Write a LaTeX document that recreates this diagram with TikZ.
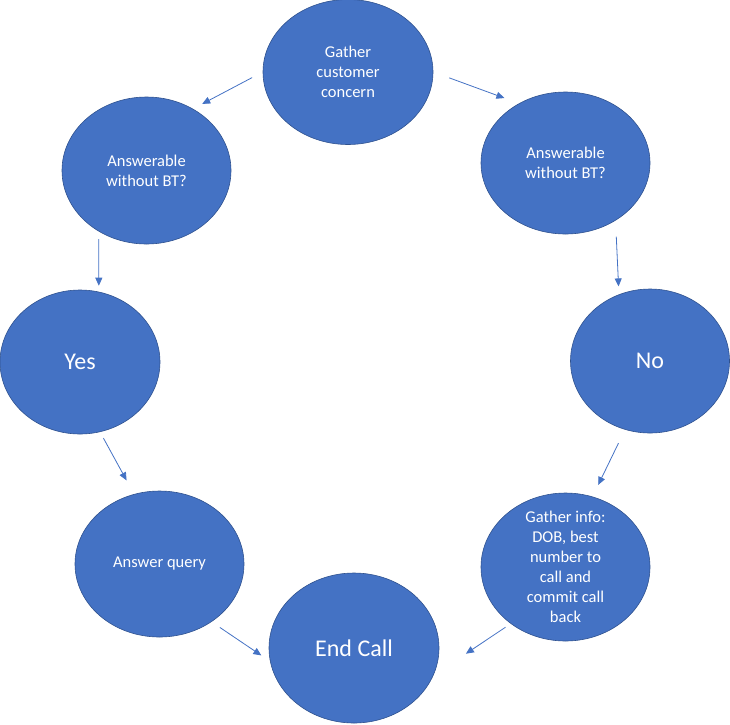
\documentclass[tikz,border=0pt]{standalone}
\usepackage{fontspec}
\setmainfont{Carlito}
\usetikzlibrary{arrows.meta,shapes.geometric}
\definecolor{bubblefill}{HTML}{4472C4}
\definecolor{bubbleline}{HTML}{2F528F}

\begin{document}
\begin{tikzpicture}[x=1pt,y=-1pt,>={Triangle[length=8pt,width=7pt]},
    bubble/.style={ellipse,draw=bubbleline,line width=0.6pt,fill=bubblefill,text=white,
      minimum width=169pt,minimum height=146pt,inner sep=-15pt,align=center,
      font=\fontsize{16.5}{20}\selectfont},
    big/.style={font=\fontsize{24}{29}\selectfont},
    flow/.style={->,bubblefill,line width=0.8pt}]
  \useasboundingbox (0,0) rectangle (730,724);
  % the eight bubbles
  \node[bubble,minimum width=170pt,minimum height=145pt] (gather) at (348,72)
    {Gather\\customer\\concern};
  \node[bubble,minimum height=147pt] (askleft) at (146.5,170.5)
    {Answerable\\without BT?};
  \node[bubble,minimum height=142pt] (askright) at (565.5,163)
    {Answerable\\without BT?};
  \node[bubble,big,minimum width=160pt,minimum height=144pt] (yes) at (80,362) {Yes};
  \node[bubble,big,minimum width=159pt,minimum height=144pt] (no) at (650,361) {No};
  \node[bubble] (answer) at (159.5,564) {Answer query};
  \node[bubble,minimum height=148pt] (info) at (565.5,567)
    {Gather info:\\DOB, best\\number to\\call and\\commit call\\back};
  \node[bubble,big,minimum width=170pt,minimum height=150pt] (endcall) at (354,648) {End Call};
  % connectors
  \draw[flow,shorten <=12pt,shorten >=10.4pt] (gather.180) -- (askleft.53);
  \draw[flow,shorten <=17pt,shorten >=15.5pt] (gather.0) -- (askright.128);
  \draw[flow,shorten <=7.7pt,shorten >=6pt] (askleft.232) -- (yes.75);
  \draw[flow,shorten <=16pt,shorten >=8pt] (askright.311) -- (no.115);
  \draw[flow,shorten <=7pt,shorten >=15.6pt] (yes.286) -- (answer.110);
  \draw[flow,shorten <=15pt,shorten >=13pt] (no.250) -- (info.69);
  \draw[flow,shorten <=10pt,shorten >=10.5pt] (answer.312) -- (endcall.189);
  \draw[flow,shorten <=6.3pt,shorten >=39pt] (info.226) -- (endcall.341);
\end{tikzpicture}
\end{document}
